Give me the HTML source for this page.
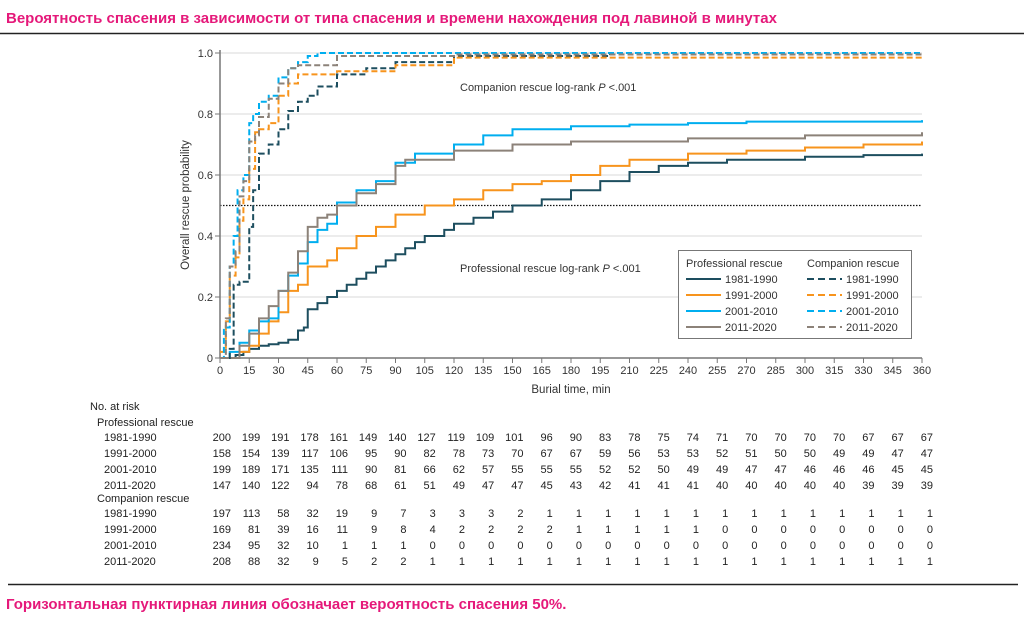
<!DOCTYPE html>
<html><head><meta charset="utf-8"><style>
html,body{margin:0;padding:0;background:#fff;width:1024px;height:623px;overflow:hidden}
svg{display:block;font-family:"Liberation Sans",sans-serif}
</style></head><body>
<svg id="s" width="1024" height="623" viewBox="0 0 1024 623">
<text x="6" y="23" font-size="15" font-weight="bold" fill="#e5197a">Вероятность спасения в зависимости от типа спасения и времени нахождения под лавиной в минутах</text>
<line x1="0" y1="33.5" x2="1024" y2="33.5" stroke="#222" stroke-width="1.5"/>
<line x1="8" y1="584.5" x2="1018" y2="584.5" stroke="#222" stroke-width="1.5"/>
<text x="6" y="609" font-size="15" font-weight="bold" fill="#e5197a">Горизонтальная пунктирная линия обозначает вероятность спасения 50%.</text>
<g id="g"></g>
</svg>
<script>
const g=document.getElementById('g');let h='';
const X=t=>220+t*702/360, Y=p=>358-p*305;
for(let i=1;i<=5;i++)h+=`<line x1="220" x2="922" y1="${Y(i/5)}" y2="${Y(i/5)}" stroke="#d8d8d8" stroke-width="1"/>`;
h+=`<line x1="220" x2="922" y1="${Y(.5)}" y2="${Y(.5)}" stroke="#111" stroke-width="1.2" stroke-dasharray="1.5,1.5"/>`;
h+=`<line x1="220" x2="220" y1="50" y2="358" stroke="#777" stroke-width="1.5"/><line x1="220" x2="922" y1="358" y2="358" stroke="#777" stroke-width="1.5"/>`;
const yl=['0','0.2','0.4','0.6','0.8','1.0'];
yl.forEach((l,i)=>{h+=`<line x1="215" x2="220" y1="${Y(i/5)}" y2="${Y(i/5)}" stroke="#777"/><text x="213" y="${Y(i/5)+4}" font-size="11" text-anchor="end" fill="#333">${l}</text>`});
for(let t=0;t<=360;t+=15){h+=`<line x1="${X(t)}" x2="${X(t)}" y1="358" y2="363" stroke="#777"/><text x="${X(t)}" y="374" font-size="11" text-anchor="middle" fill="#333">${t}</text>`}
h+=`<text x="571" y="393" font-size="11.5" text-anchor="middle" fill="#333">Burial time, min</text>`;
h+=`<text transform="translate(189,205) rotate(-90)" font-size="11.5" text-anchor="middle" fill="#333">Overall rescue probability</text>`;
h+=`<text x="460" y="91" font-size="11" fill="#333">Companion rescue log-rank <tspan font-style="italic">P</tspan> &lt;.001</text>`;
h+=`<text x="460" y="272" font-size="11" fill="#333">Professional rescue log-rank <tspan font-style="italic">P</tspan> &lt;.001</text>`;
const C=['#1d4e5f','#f7941d','#00aeef','#8c8279'];
const P=[
[[0,0],[8,.01],[12,.02],[15,.03],[20,.04],[25,.045],[30,.05],[35,.06],[40,.09],[43,.1],[45,.16],[50,.18],[55,.2],[60,.22],[65,.24],[70,.26],[75,.28],[80,.3],[85,.32],[90,.34],[95,.36],[100,.38],[105,.4],[115,.42],[120,.44],[130,.46],[140,.48],[150,.5],[165,.52],[180,.55],[195,.58],[210,.61],[225,.63],[240,.64],[260,.65],[300,.66],[330,.665],[360,.67]],
[[0,0],[5,0],[10,.02],[15,.04],[20,.08],[25,.12],[30,.15],[35,.22],[40,.24],[45,.3],[55,.32],[60,.36],[70,.4],[80,.43],[90,.47],[105,.5],[120,.52],[135,.55],[150,.57],[165,.58],[180,.6],[195,.63],[210,.65],[240,.67],[270,.68],[300,.69],[330,.7],[360,.71]],
[[0,0],[5,.02],[10,.05],[15,.09],[20,.12],[25,.13],[30,.22],[35,.27],[40,.31],[45,.38],[50,.42],[55,.44],[60,.51],[70,.55],[80,.58],[90,.64],[100,.67],[120,.7],[135,.73],[150,.75],[180,.76],[210,.765],[240,.77],[270,.775],[360,.78]],
[[0,0],[5,0],[10,.04],[15,.08],[20,.13],[25,.17],[30,.22],[35,.28],[40,.35],[45,.43],[50,.46],[55,.47],[60,.5],[70,.54],[80,.57],[90,.63],[95,.65],[120,.68],[150,.7],[180,.71],[240,.72],[300,.73],[360,.74]]];
const D=[
[[0,0],[5,.03],[7,.24],[10,.25],[15,.43],[17,.55],[20,.67],[25,.7],[30,.75],[35,.81],[40,.84],[45,.86],[50,.89],[60,.93],[75,.95],[90,.97],[120,.99],[200,1],[360,1]],
[[0,.02],[3,.12],[5,.27],[8,.33],[10,.45],[12,.52],[15,.62],[18,.74],[20,.75],[25,.77],[30,.86],[35,.9],[40,.93],[60,.94],[90,.96],[120,.985],[360,.99]],
[[0,0],[2,.1],[5,.3],[7,.4],[9,.55],[12,.6],[15,.77],[17,.8],[20,.84],[25,.86],[30,.92],[35,.95],[40,.97],[45,.99],[50,1],[360,1]],
[[0,0],[3,.13],[5,.3],[8,.35],[10,.53],[12,.58],[15,.71],[18,.73],[20,.79],[25,.85],[30,.9],[35,.95],[40,.96],[60,.99],[120,.995],[360,1]]];
function st(a){let d=`M${X(a[0][0])},${Y(a[0][1])}`;for(let i=1;i<a.length;i++){d+=`H${X(a[i][0])}V${Y(a[i][1])}`}return d}
P.forEach((a,i)=>h+=`<path d="${st(a)}" fill="none" stroke="${C[i]}" stroke-width="2"/>`);
D.forEach((a,i)=>h+=`<path d="${st(a)}" fill="none" stroke="${C[i]}" stroke-width="2" stroke-dasharray="6,3"/>`);
h+=`<rect x="678.5" y="250.5" width="233" height="88" fill="#fff" stroke="#777"/>`;
h+=`<text x="686" y="267" font-size="11" fill="#333">Professional rescue</text><text x="807" y="267" font-size="11" fill="#333">Companion rescue</text>`;
const L=['1981-1990','1991-2000','2001-2010','2011-2020'];
L.forEach((l,i)=>{const y=279+i*16;h+=`<line x1="686" x2="721" y1="${y}" y2="${y}" stroke="${C[i]}" stroke-width="2"/><text x="725" y="${y+4}" font-size="11" fill="#333">${l}</text><line x1="807" x2="842" y1="${y}" y2="${y}" stroke="${C[i]}" stroke-width="2" stroke-dasharray="7,4"/><text x="846" y="${y+4}" font-size="11" fill="#333">${l}</text>`});
h+=`<text x="90" y="410" font-size="11" fill="#222">No. at risk</text><text x="97" y="426" font-size="11" fill="#222">Professional rescue</text><text x="97" y="502" font-size="11" fill="#222">Companion rescue</text>`;
const R=[
"200 199 191 178 161 149 140 127 119 109 101 96 90 83 78 75 74 71 70 70 70 70 67 67 67",
"158 154 139 117 106 95 90 82 78 73 70 67 67 59 56 53 53 52 51 50 50 49 49 47 47",
"199 189 171 135 111 90 81 66 62 57 55 55 55 52 52 50 49 49 47 47 46 46 46 45 45",
"147 140 122 94 78 68 61 51 49 47 47 45 43 42 41 41 41 40 40 40 40 40 39 39 39",
"197 113 58 32 19 9 7 3 3 3 2 1 1 1 1 1 1 1 1 1 1 1 1 1 1",
"169 81 39 16 11 9 8 4 2 2 2 2 1 1 1 1 1 0 0 0 0 0 0 0 0",
"234 95 32 10 1 1 1 0 0 0 0 0 0 0 0 0 0 0 0 0 0 0 0 0 0",
"208 88 32 9 5 2 2 1 1 1 1 1 1 1 1 1 1 1 1 1 1 1 1 1 1"];
const ry=[441,457,473,489,517,533,549,565];
R.forEach((r,i)=>{h+=`<text x="104" y="${ry[i]}" font-size="11" fill="#222">${L[i%4]}</text>`;r.split(' ').forEach((v,j)=>{h+=`<text x="${X(j*15)+11}" y="${ry[i]}" font-size="11" text-anchor="end" fill="#222">${v}</text>`})});
g.innerHTML=h;
</script>
</body></html>
